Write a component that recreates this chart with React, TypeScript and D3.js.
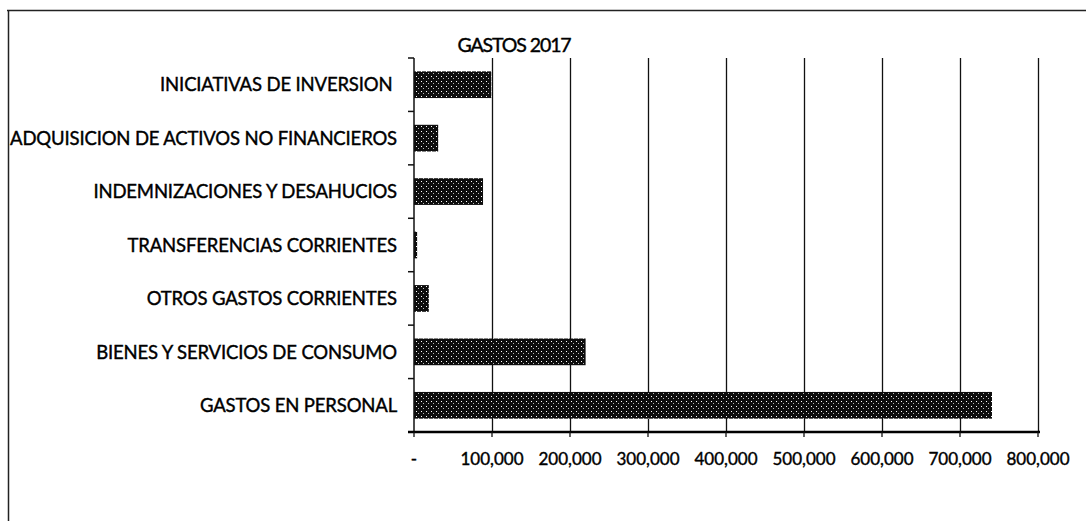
import React, { useEffect, useRef } from "react";
import * as d3 from "d3";

// categories top to bottom, as drawn
const categories = [
  "INICIATIVAS DE INVERSION ",
  "ADQUISICION DE ACTIVOS NO FINANCIEROS",
  "INDEMNIZACIONES Y DESAHUCIOS",
  "TRANSFERENCIAS CORRIENTES",
  "OTROS GASTOS CORRIENTES",
  "BIENES Y SERVICIOS DE CONSUMO",
  "GASTOS EN PERSONAL",
];
const values = [99000, 31000, 88500, 4000, 19000, 220000, 741000];
const xTicks = [0, 100000, 200000, 300000, 400000, 500000, 600000, 700000, 800000];
const title = "GASTOS 2017";

const App: React.FC = () => {
  const svgRef = useRef<SVGSVGElement | null>(null);

  useEffect(() => {
    const width = 1086;
    const height = 521;
    const margin = { top: 58, right: 48, bottom: 89, left: 414 };
    const font = "Lato, 'Open Sans', sans-serif";

    const svg = d3.select(svgRef.current);
    svg.selectAll("*").remove();
    svg.attr("width", width).attr("height", height);

    // halftone-like fill for the bars
    const defs = svg.append("defs");
    const pat = defs
      .append("pattern")
      .attr("id", "stipple")
      .attr("patternUnits", "userSpaceOnUse")
      .attr("width", 5)
      .attr("height", 5);
    pat.append("rect").attr("width", 5).attr("height", 5).attr("fill", "#0d0d0d");
    pat.append("rect").attr("x", 1).attr("y", 1).attr("width", 1).attr("height", 1).attr("fill", "#fff");
    pat.append("rect").attr("x", 3).attr("y", 3).attr("width", 1).attr("height", 1).attr("fill", "#bbb");

    const x = d3
      .scaleLinear()
      .domain([0, 800000])
      .range([margin.left, width - margin.right]);

    const y = d3
      .scaleBand<string>()
      .domain(categories)
      .range([margin.top, height - margin.bottom])
      .paddingInner(0.5)
      .paddingOuter(0.25);

    const y0 = margin.top;
    const y1 = height - margin.bottom;

    // outer frame (top and left edges only visible)
    svg.append("line").attr("x1", 7).attr("x2", width).attr("y1", 10.5).attr("y2", 10.5)
      .attr("stroke", "#222").attr("stroke-width", 1.5);
    svg.append("line").attr("x1", 8.5).attr("x2", 8.5).attr("y1", 10).attr("y2", height)
      .attr("stroke", "#222").attr("stroke-width", 1.5);

    // gridlines
    svg
      .append("g")
      .selectAll("line")
      .data(xTicks.slice(1))
      .join("line")
      .attr("x1", (d) => Math.round(x(d)) + 0.5)
      .attr("x2", (d) => Math.round(x(d)) + 0.5)
      .attr("y1", y0)
      .attr("y2", y1)
      .attr("stroke", "#111")
      .attr("stroke-width", 1.3);

    // bars
    svg
      .append("g")
      .selectAll("rect")
      .data(categories)
      .join("rect")
      .attr("x", x(0))
      .attr("y", (d) => y(d)!)
      .attr("width", (d, i) => x(values[i]) - x(0))
      .attr("height", y.bandwidth())
      .attr("fill", "url(#stipple)");

    // y axis
    const yAxis = svg.append("g");
    yAxis.append("line").attr("x1", x(0)).attr("x2", x(0)).attr("y1", y0).attr("y2", y1)
      .attr("stroke", "#111").attr("stroke-width", 1.5);
    const step = y.step();
    const bounds = d3.range(categories.length + 1).map((i) => y0 + i * step);
    yAxis
      .selectAll("line.tick")
      .data(bounds)
      .join("line")
      .attr("class", "tick")
      .attr("x1", x(0) - 6)
      .attr("x2", x(0))
      .attr("y1", (d) => d)
      .attr("y2", (d) => d)
      .attr("stroke", "#111")
      .attr("stroke-width", 1.5);

    svg
      .append("g")
      .selectAll("text")
      .data(categories)
      .join("text")
      .attr("x", x(0) - 17)
      .attr("y", (d) => y(d)! + y.bandwidth() / 2)
      .attr("dy", "0.36em")
      .attr("text-anchor", "end")
      .attr("font-family", font)
      .attr("font-size", 18.5)
      .attr("letter-spacing", -0.15)
      .attr("fill", "#000")
      .attr("stroke", "#000")
      .attr("stroke-width", 0.4)
      .style("white-space", "pre")
      .text((d) => d);

    // x axis
    const xAxis = svg.append("g");
    xAxis.append("line").attr("x1", x(0) - 6).attr("x2", x(800000) + 2).attr("y1", y1).attr("y2", y1)
      .attr("stroke", "#000").attr("stroke-width", 2.5);
    xAxis
      .selectAll("line.tick")
      .data(xTicks)
      .join("line")
      .attr("class", "tick")
      .attr("x1", (d) => x(d))
      .attr("x2", (d) => x(d))
      .attr("y1", y1)
      .attr("y2", y1 + 5)
      .attr("stroke", "#111")
      .attr("stroke-width", 1.3);
    xAxis
      .selectAll("text")
      .data(xTicks)
      .join("text")
      .attr("x", (d) => x(d))
      .attr("y", y1 + 27)
      .attr("dy", "0.36em")
      .attr("text-anchor", "middle")
      .attr("font-family", font)
      .attr("font-size", 17)
      .attr("fill", "#000")
      .attr("stroke", "#000")
      .attr("stroke-width", 0.4)
      .text((d) => (d === 0 ? "-" : d3.format(",")(d)));

    // title
    svg
      .append("text")
      .attr("x", 514)
      .attr("y", 45)
      .attr("dy", "0.36em")
      .attr("text-anchor", "middle")
      .attr("font-family", font)
      .attr("font-size", 19.5)
      .attr("letter-spacing", -1.1)
      .attr("fill", "#000")
      .attr("stroke", "#000")
      .attr("stroke-width", 0.4)
      .text(title);
  }, []);

  return (
    <div style={{ position: "absolute", left: 0, top: 0 }}>
      <svg ref={svgRef} style={{ display: "block", background: "#fff" }}></svg>
    </div>
  );
};

export default App;
